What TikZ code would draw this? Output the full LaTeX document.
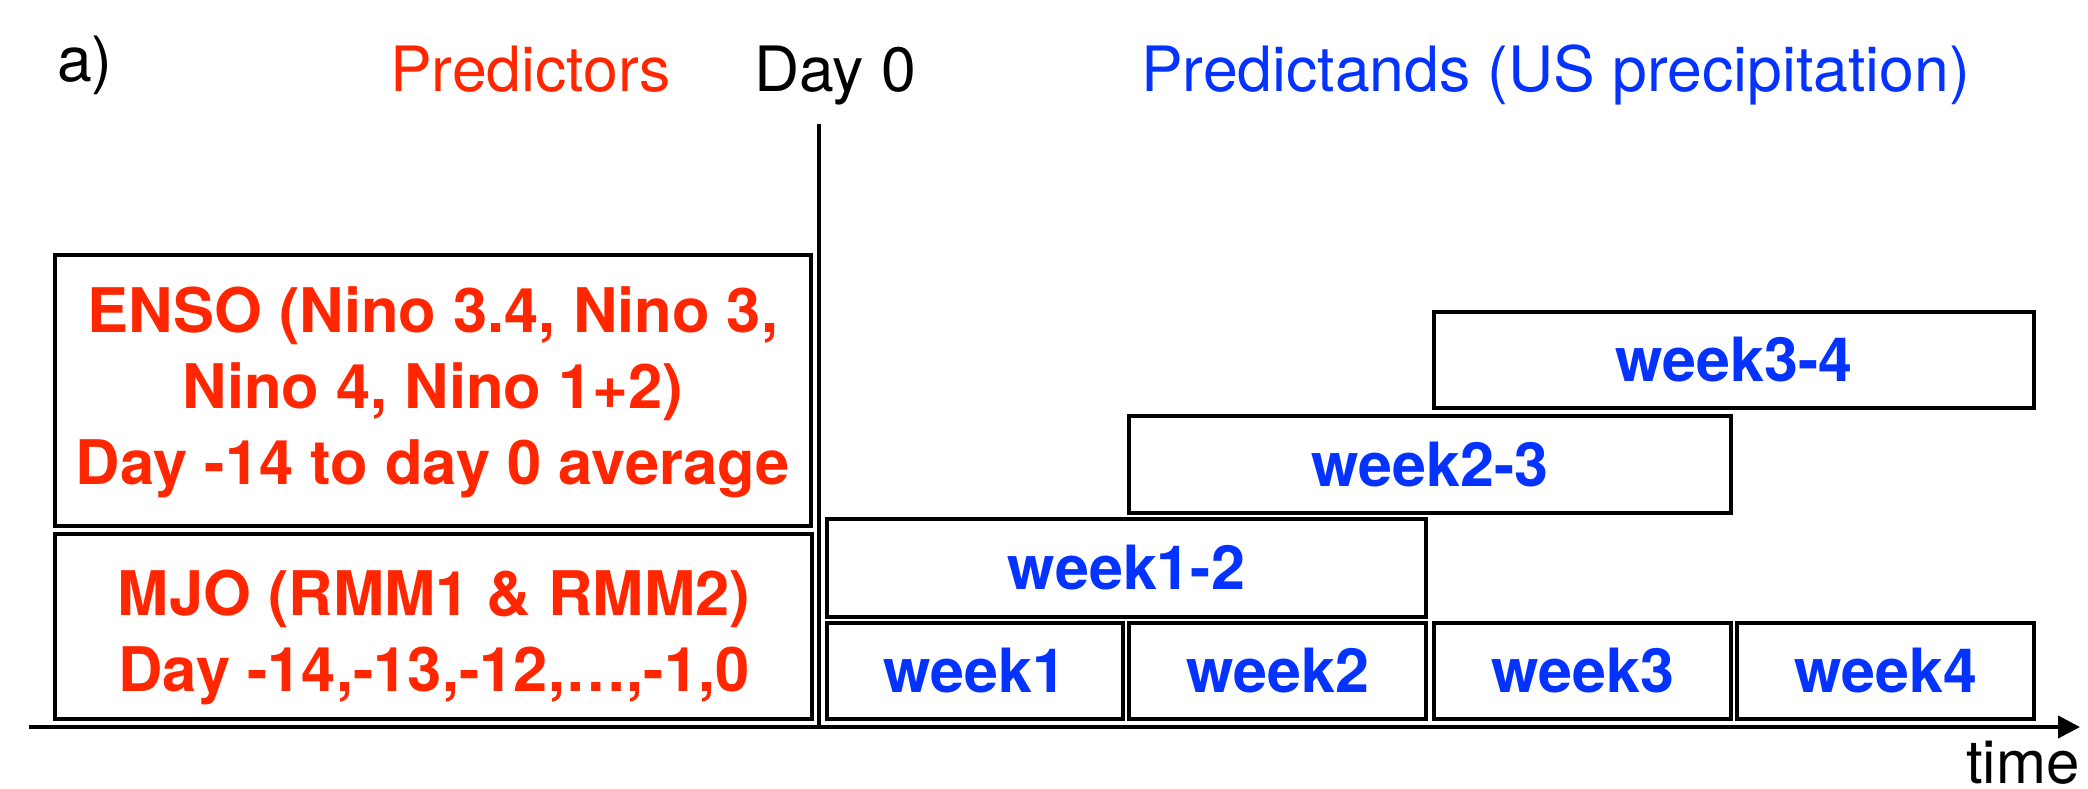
\documentclass[tikz,border=0pt]{standalone}
\usepackage{fontspec}
\setmainfont{TeX Gyre Heros}
\usetikzlibrary{arrows.meta}
\definecolor{pred}{RGB}{255,38,0}
\definecolor{pblue}{RGB}{4,51,255}
\begin{document}
\begin{tikzpicture}[x=1pt,y=-1pt,
  hdr/.style={font=\fontsize{62.5}{73}\selectfont, inner sep=0pt, anchor=base west},
  box/.style={draw=black, line width=4pt, inner sep=0pt, font=\fontsize{61}{76}\selectfont\bfseries, align=center},
  pbox/.style={draw=black, line width=4pt, inner sep=0pt},
  ptext/.style={inner sep=0pt, text=pred, font=\fontsize{61.5}{76}\selectfont\bfseries, align=center},
  wbox/.style={box, text=pblue, minimum height=96pt},
  axisline/.style={line width=4pt, -{Triangle[length=22pt,width=22pt]}},
  dayline/.style={line width=3.5pt}
]
\useasboundingbox (0,0) rectangle (2088,789);
% headers
\node[hdr] (lab) at (57,82) {a)};
\node[hdr, text=pred] (hpred) at (390,92) {Predictors};
\node[hdr] (hday) at (754,92) {Day 0};
\node[hdr, text=pblue] (hptd) at (1141,92) {Predictands (US precipitation)};
\node[hdr, font=\fontsize{60}{72}\selectfont] (htime) at (1966,783) {time};
% day 0 line and time axis
\coordinate (d0top) at (819,124);
\coordinate (d0bot) at (819,729);
\draw[dayline] (d0top) -- (d0bot);
\coordinate (axs) at (29,727);
\coordinate (axe) at (2080,727);
\draw[axisline] (axs) -- (axe);
% predictor boxes
\node[pbox, minimum width=756pt, minimum height=271pt] (enso) at (433,390.5) {};
\node[ptext] (ensotxt) at (433,392)
  {ENSO (Nino 3.4, Nino 3,\\ Nino 4, Nino 1+2)\\ Day -14 to day 0 average};
\node[pbox, minimum width=757pt, minimum height=185pt] (mjo) at (433.5,626.5) {};
\node[ptext] (mjotxt) at (434,637)
  {MJO (RMM1 \& RMM2)\\ Day -14,-13,-12,\ldots,-1,0};
% predictand boxes
\node[wbox, minimum width=296pt] (w1) at (975,671) {week1};
\node[wbox, minimum width=297pt] (w2) at (1277.5,671) {week2};
\node[wbox, minimum width=297pt] (w3) at (1582.5,671) {week3};
\node[wbox, minimum width=297pt] (w4) at (1885.5,671) {week4};
\node[wbox, minimum width=599pt, minimum height=98pt] (w12) at (1126.5,568) {week1-2};
\node[wbox, minimum width=602pt, minimum height=97pt] (w23) at (1430,464.5) {week2-3};
\node[wbox, minimum width=600pt] (w34) at (1734,360) {week3-4};
\end{tikzpicture}
\end{document}
